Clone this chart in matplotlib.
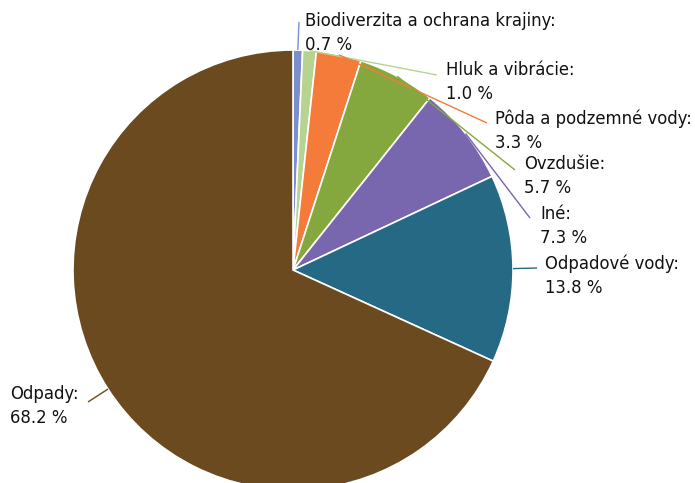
import matplotlib
matplotlib.use("Agg")
import matplotlib.pyplot as plt
import numpy as np

categories = ["Biodiverzita a ochrana krajiny", "Hluk a vibrácie", "Pôda a podzemné vody",
              "Ovzdušie", "Iné", "Odpadové vody", "Odpady"]
values = [0.7, 1.0, 3.3, 5.7, 7.3, 13.8, 68.2]
colors = ["#7b8fcf", "#b6d48f", "#f47b3a", "#84a83d", "#7866ae", "#256984", "#6b4a1f"]

W, H = 695, 483
fig = plt.figure(figsize=(W / 100, H / 100), dpi=100)
ax = fig.add_axes([0, 0, 1, 1])

cx, cy, R = 293, H - 270, 220
wedges, _ = ax.pie(values, colors=colors, startangle=90, counterclock=False,
                   center=(cx, cy), radius=R, frame=True,
                   wedgeprops=dict(edgecolor="white", linewidth=1.2))
ax.set_xlim(0, W)
ax.set_ylim(0, H)
ax.set_aspect("equal")
ax.axis("off")

# label anchor positions (pixel coords, text left x, centre y of block) and leader end
label_pos = [(305, 33), (446, 82), (495, 131), (524, 176), (540, 226), (545, 276), (10, 406)]
leader_end = [(299, 22), (437, 75), (487, 123), (515, 170), (530, 218), (537, 268), (88, 402)]

for w, cat, val, col, (lx, ly), (ex, ey) in zip(wedges, categories, values, colors,
                                                label_pos, leader_end):
    ang = np.deg2rad((w.theta1 + w.theta2) / 2)
    sx = cx + R * np.cos(ang)
    sy = cy + R * np.sin(ang)
    ax.plot([sx, ex], [sy, H - ey], color=col, lw=1.0, solid_capstyle="butt")
    ax.text(lx, H - ly, f"{cat}:\n{val:.1f} %", ha="left", va="center",
            fontsize=11.9, color="#111111", linespacing=1.42, family="DejaVu Sans")

fig.savefig("out.png", dpi=100)
